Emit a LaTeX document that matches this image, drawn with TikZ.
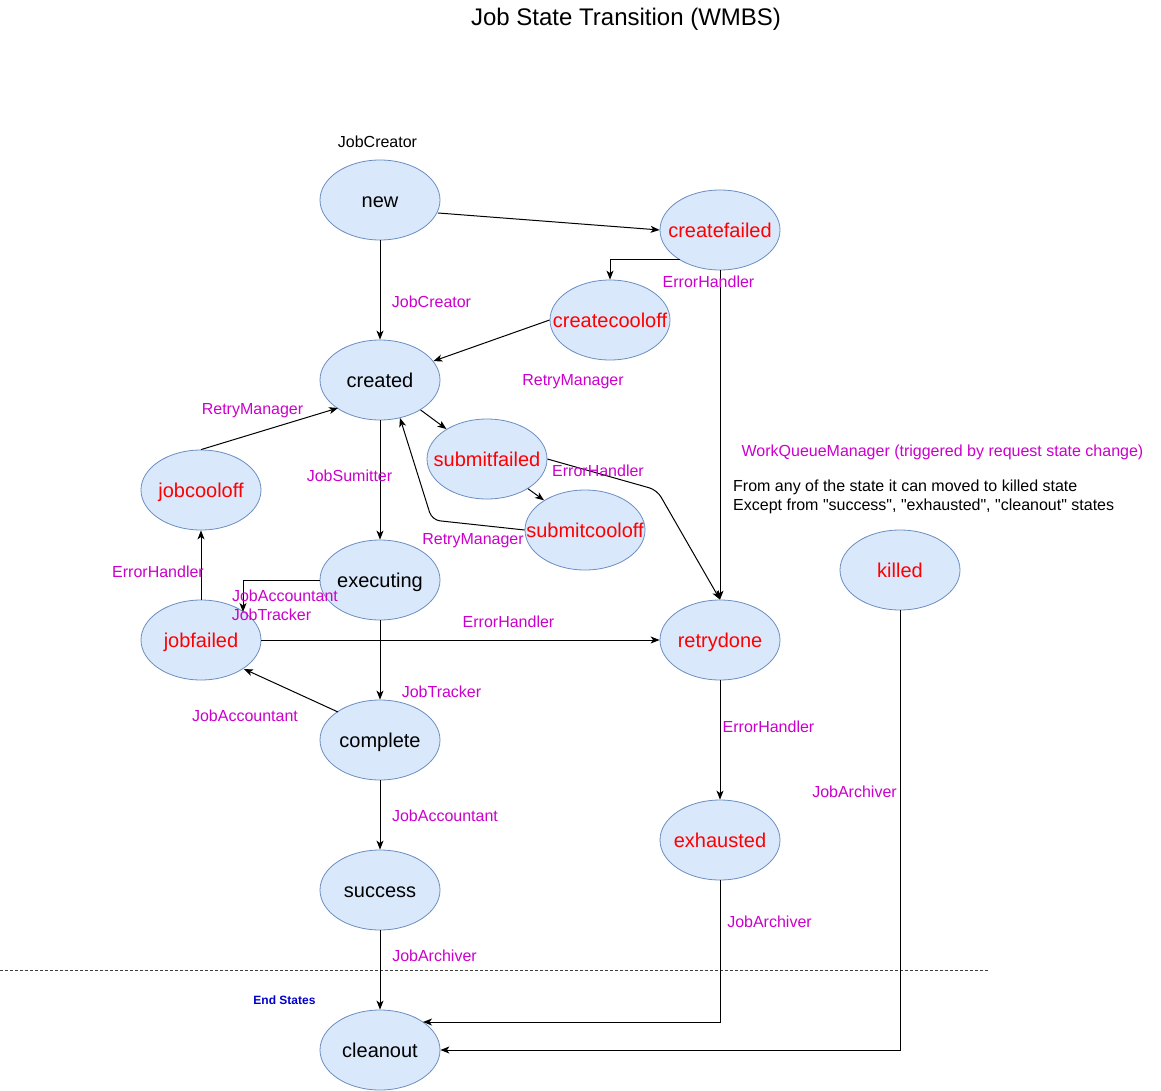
\documentclass[tikz,border=0pt]{standalone}
\usepackage{fontspec}
\setmainfont{Liberation Sans}[Ligatures=TeXOff]
\usetikzlibrary{shapes.geometric,arrows.meta,calc}
\definecolor{statefill}{HTML}{DAE8FC}
\definecolor{stateborder}{HTML}{6C8EBF}
\definecolor{lblmag}{HTML}{CC00CC}
\definecolor{redtxt}{HTML}{FF0000}
\definecolor{endblue}{HTML}{0000CC}
\newcommand{\fixw}[1]{\makebox[0pt]{\raisebox{-7.5pt}[0pt][0pt]{#1}}}
\begin{document}
\begin{tikzpicture}[x=1pt,y=-1pt,
  state/.style={ellipse, draw=stateborder, fill=statefill, line width=0.8pt,
    minimum width=120pt, minimum height=80pt, inner sep=0pt,
    font=\fontsize{20}{24}\selectfont},
  errstate/.style={state, text=redtxt},
  lbl/.style={text=lblmag, font=\fontsize{16}{19}\selectfont, inner sep=0pt, yshift=-1pt},
  blk/.style={text=black, font=\fontsize{16}{19}\selectfont, inner sep=0pt, yshift=-1pt},
  edge/.style={draw=black, line width=1pt, -{Stealth[length=9pt,width=7pt,inset=2.5pt]}}
]
\useasboundingbox (0,0) rectangle (1161,1091);
\fill[white] (0,0) rectangle (1161,1091);

% title
\node[font=\fontsize{24}{28}\selectfont, inner sep=0pt, yshift=-2pt] (title) at (626,17) {Job State Transition (WMBS)};

% states
\node[state] (new) at (380,200) {\fixw{new}};
\node[errstate] (createfailed) at (720,230) {\fixw{createfailed}};
\node[errstate] (createcooloff) at (610,320) {\fixw{createcooloff}};
\node[state] (created) at (380,380) {\fixw{created}};
\node[errstate] (submitfailed) at (487,459) {\fixw{submitfailed}};
\node[errstate] (submitcooloff) at (585,530) {\fixw{submitcooloff}};
\node[errstate] (jobcooloff) at (201,490) {\fixw{jobcooloff}};
\node[state] (executing) at (380,580) {\fixw{executing}};
\node[errstate] (jobfailed) at (201,640) {\fixw{jobfailed}};
\node[errstate] (retrydone) at (720,640) {\fixw{retrydone}};
\node[state] (complete) at (380,740) {\fixw{complete}};
\node[state] (success) at (380,890) {\fixw{success}};
\node[errstate] (exhausted) at (720,840) {\fixw{exhausted}};
\node[errstate] (killed) at (900,570) {\fixw{killed}};
\node[state] (cleanout) at (380,1050) {\fixw{cleanout}};

% end-state separator
\coordinate (sepL) at (0,970);
\coordinate (sepR) at (988,970);
\draw[line width=0.8pt, draw=black!75, dash pattern=on 3pt off 2pt] (sepL) -- (sepR);

% bend points
\coordinate (bendA) at (657,490);
\coordinate (bendB) at (432,520);

% connectors
\draw[edge] ([shift={(58,13)}]new.center) -- (createfailed.west);
\draw[edge] ([shift={(-40,30)}]createfailed.center) -| (createcooloff.north);
\draw[edge] (createfailed.south) -- (retrydone.north);
\draw[edge] (new.south) -- (created.north);
\draw[edge] (createcooloff.west) -- (created);
\draw[edge] (created) -- (submitfailed);
\draw[edge] (submitfailed) -- (submitcooloff);
\draw[edge, rounded corners=8pt] (submitfailed.east) -- (bendA) -- (retrydone.north);
\draw[edge, rounded corners=8pt] (submitcooloff.west) -- (bendB) -- ([shift={(20,38)}]created.center);
\draw[edge] (created.south) -- (executing.north);
\draw[edge] (jobcooloff.north) -- ([shift={(-42,28)}]created.center);
\draw[edge] (executing.west) -| ([shift={(42,-28)}]jobfailed.center);
\draw[edge] (jobfailed.north) -- (jobcooloff.south);
\draw[edge] (jobfailed.east) -- (retrydone.west);
\draw[edge] (executing.south) -- (complete.north);
\draw[edge] ([shift={(-42,-28)}]complete.center) -- ([shift={(43,29)}]jobfailed.center);
\draw[edge] (complete.south) -- (success.north);
\draw[edge] (success.south) -- (cleanout.north);
\draw[edge] (retrydone.south) -- (exhausted.north);
\draw[edge] (exhausted.south) |- ([shift={(43,-28)}]cleanout.center);
\draw[edge] (killed.south) |- (cleanout.east);

% labels
\node[blk] (l0) at (377.5,141) {JobCreator};
\node[lbl] (l1) at (431.5,301) {JobCreator};
\node[lbl] (l2) at (708.5,281) {ErrorHandler};
\node[lbl] (l3) at (573,381) {RetryManager};
\node[lbl] (l4) at (252.5,410) {RetryManager};
\node[lbl] (l5) at (349.5,475) {JobSumitter};
\node[lbl] (l6) at (598,470) {ErrorHandler};
\node[lbl] (l7) at (473,540) {RetryManager};
\node[lbl] (l8) at (158,571) {ErrorHandler};
\node[lbl] (l9) at (285,595) {JobAccountant};
\node[lbl] (l10) at (271.5,614) {JobTracker};
\node[lbl] (l11) at (508.5,621) {ErrorHandler};
\node[lbl] (l12) at (441.5,691) {JobTracker};
\node[lbl] (l13) at (245,715) {JobAccountant};
\node[lbl] (l14) at (445,815) {JobAccountant};
\node[lbl] (l15) at (768.5,726) {ErrorHandler};
\node[lbl] (l16) at (854.5,791) {JobArchiver};
\node[lbl] (l17) at (769.5,921) {JobArchiver};
\node[lbl] (l18) at (434.5,955) {JobArchiver};
\node[text=endblue, font=\fontsize{12}{14}\selectfont\bfseries, inner sep=0pt, yshift=-1pt] (l19) at (284.5,999) {End States};
\node[lbl] (l20) at (942.5,451) {WorkQueueManager (triggered by request state change)};
\node[blk, anchor=west, align=left, font=\fontsize{16}{19}\selectfont] (l21) at (733,495.5)
  {From any of the state it can moved to killed state\\Except from "success", "exhausted", "cleanout" states};
\end{tikzpicture}
\end{document}
